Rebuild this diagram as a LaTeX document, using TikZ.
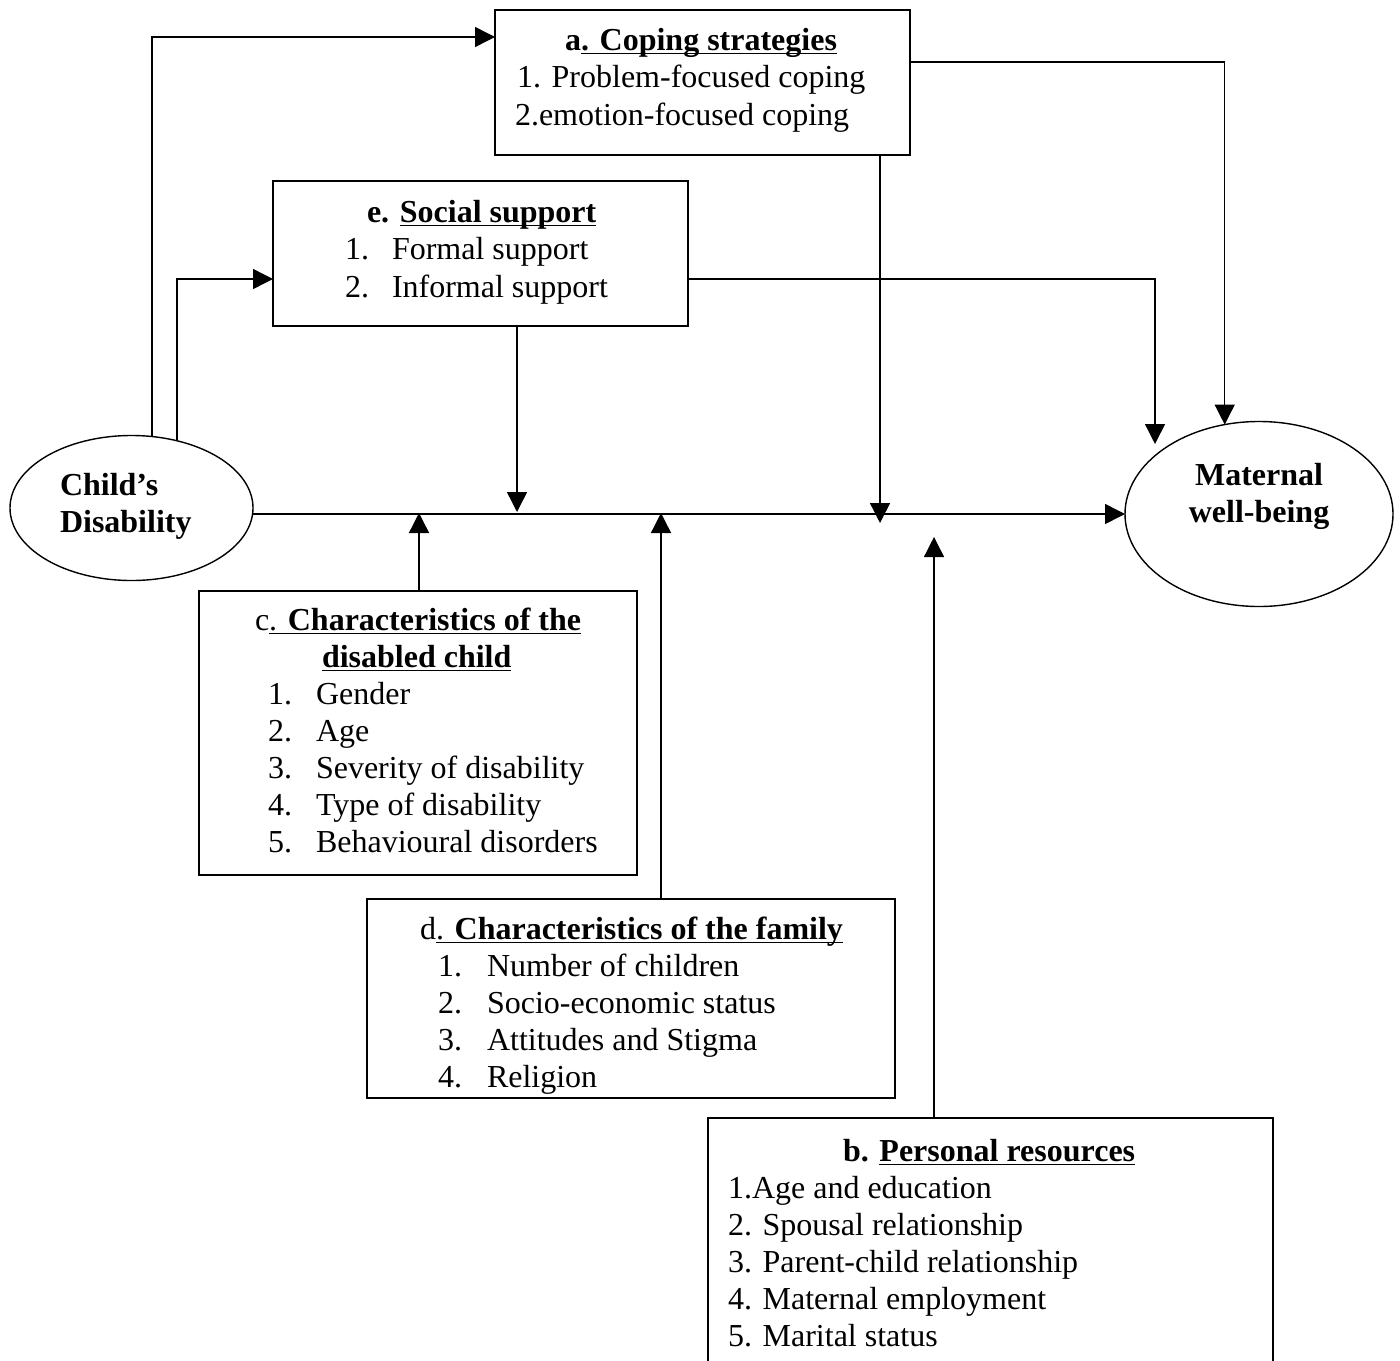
\documentclass[tikz,border=0pt]{standalone}
\usepackage{fontspec}
\setmainfont{Liberation Serif}
\usetikzlibrary{arrows.meta,shapes.geometric}

% underline drawn close to the baseline, crossing descenders
\newcommand{\undl}[1]{\setbox0\hbox{#1}\rlap{\rule[-2.2pt]{\wd0}{0.9pt}}\box0}

\begin{document}
\begin{tikzpicture}[x=0.5pt,y=-0.5pt,
  font=\fontsize{16}{18.5}\selectfont,
  line width=0.7pt,
  boxst/.style={draw, rectangle, inner sep=0pt, outer sep=0pt},
  ellst/.style={draw, ellipse, inner sep=0pt, outer sep=0pt},
  txt/.style={inner sep=0pt, outer sep=0pt, anchor=base west},
  ctr/.style={inner sep=0pt, outer sep=0pt, anchor=base},
  arr/.style={-{Triangle[length=10pt,width=10pt]}}]

\useasboundingbox (0,0) rectangle (1400,1360);
\fill[white] (0,0) rectangle (1400,1360);
\clip (0,0) rectangle (1400,1360);

% ---------- boxes and ellipses ----------
\node[boxst, minimum width=207.5pt, minimum height=72.5pt] (cope) at (702.5,82.5) {};
\node[boxst, minimum width=207.5pt, minimum height=72.5pt] (soc) at (480.5,253.5) {};
\node[boxst, minimum width=219pt, minimum height=142pt] (cdc) at (418,733) {};
\node[boxst, minimum width=264pt, minimum height=99.5pt] (fam) at (631,998.5) {};
\node[boxst, minimum width=282.5pt, minimum height=136pt] (per) at (990.5,1254) {};
\node[ellst, minimum width=121.5pt, minimum height=72.5pt] (cd) at (131.5,508) {};
\node[ellst, minimum width=134pt, minimum height=92.5pt] (mw) at (1259,514) {};

% ---------- texts ----------
% a. coping strategies
\node[txt] (cope-h) at (565,50) {\textbf{a\undl{. Coping strategies}}};
\node[txt] (cope-1) at (517,87) {1. Problem-focused coping};
\node[txt] (cope-2) at (515,125) {2.emotion-focused coping};

% e. social support
\node[txt] (soc-h) at (367,222) {\textbf{e. \undl{Social support}}};
\node[txt] (soc-n1) at (345,259) {1.};
\node[txt] (soc-1) at (392,259) {Formal support};
\node[txt] (soc-n2) at (345,297) {2.};
\node[txt] (soc-2) at (392,297) {Informal support};

% c. characteristics of the disabled child
\node[txt] (cdc-h1) at (255,630) {c\undl{. \textbf{Characteristics of the}}};
\node[txt] (cdc-h2) at (322,667) {\textbf{\undl{disabled child}}};
\foreach \yy/\lbl [count=\i] in {704/Gender, 741/Age, 778/Severity of disability,
    815/Type of disability, 852/Behavioural disorders} {
  \node[txt] (cdc-n\i) at (268,\yy) {\i.};
  \node[txt] (cdc-\i) at (316,\yy) {\lbl};
}

% d. characteristics of the family
\node[txt] (fam-h) at (420,939) {d\undl{. \textbf{Characteristics of the family}}};
\foreach \yy/\lbl [count=\i] in {976/Number of children, 1013/Socio-economic status,
    1050/Attitudes and Stigma, 1087/Religion} {
  \node[txt] (fam-n\i) at (438,\yy) {\i.};
  \node[txt] (fam-\i) at (487,\yy) {\lbl};
}

% b. personal resources
\node[txt] (per-h) at (843,1161) {\textbf{b. \undl{Personal resources}}};
\node[txt] (per-1) at (728,1198) {1.Age and education};
\node[txt] (per-2) at (728,1235) {2. Spousal relationship};
\node[txt] (per-3) at (728,1272) {3. Parent-child relationship};
\node[txt] (per-4) at (728,1309) {4. Maternal employment};
\node[txt] (per-5) at (728,1346) {5. Marital status};

% ellipse labels
\node[txt] (cd-1) at (60,495) {\textbf{Child’s}};
\node[txt] (cd-2) at (60,532) {\textbf{Disability}};
\node[ctr] (mw-1) at (1259,485) {\textbf{Maternal}};
\node[ctr] (mw-2) at (1259,522) {\textbf{well-being}};

% ---------- arrow tips on the main path ----------
\coordinate (tsoc) at (517,512);
\coordinate (tcope) at (880,523);
\coordinate (tcdc) at (419,513);
\coordinate (tfam) at (661,513);
\coordinate (tper) at (934,537);
\coordinate (tmw) at (1155,444);

% ---------- connectors ----------
\draw[arr] (cd.east |- mw.west) -- (mw.west);
\draw[arr] (cd.74) |- (cope.west |- 0,37);
\draw[arr] (cd.56) |- (soc.west |- 0,279);
\draw[arr] (cope.east |- 0,62) -| (mw.111);
\draw[arr] (soc.east |- 0,279) -| (tmw);
\draw[arr] (cope.south -| tcope) -- (tcope);
\draw[arr] (soc.south -| tsoc) -- (tsoc);
\draw[arr] (cdc.north -| tcdc) -- (tcdc);
\draw[arr] (fam.north -| tfam) -- (tfam);
\draw[arr] (per.north -| tper) -- (tper);

\end{tikzpicture}
\end{document}
